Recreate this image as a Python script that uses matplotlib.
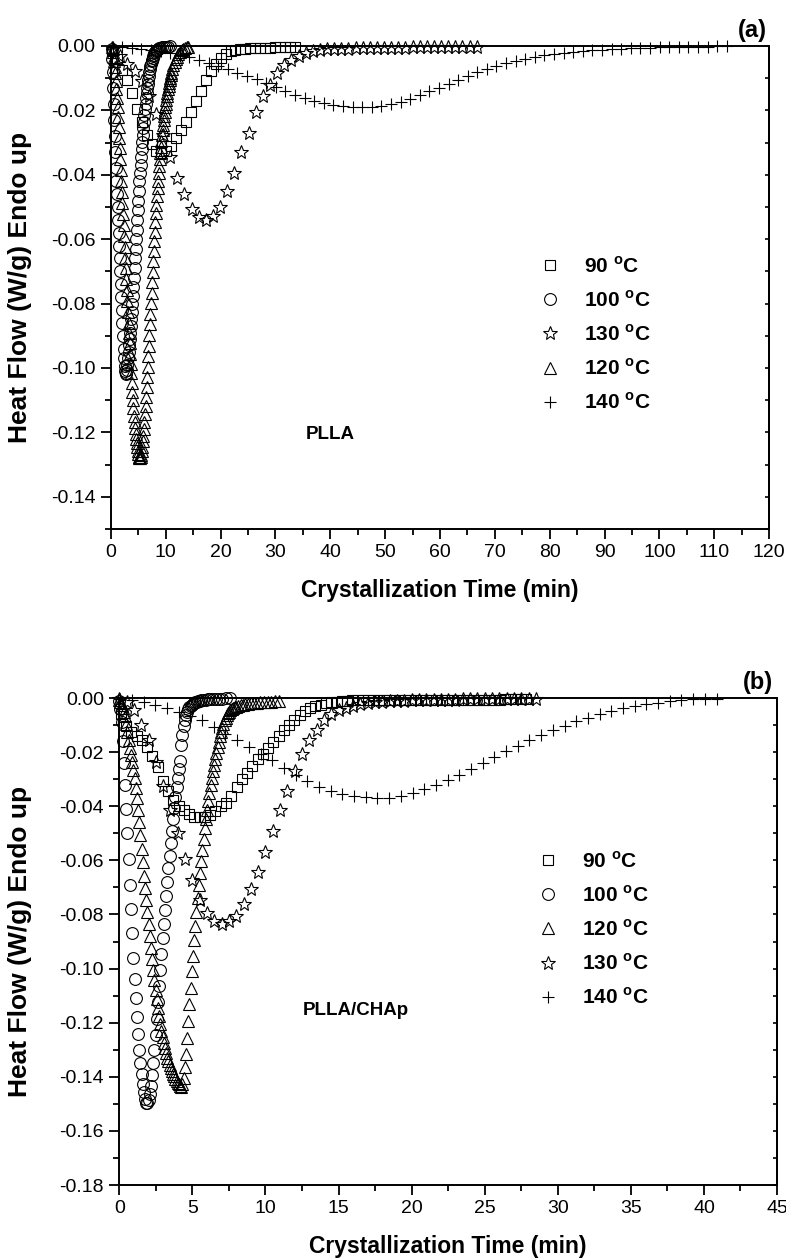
import matplotlib
matplotlib.use('Agg')
import matplotlib.pyplot as plt
from matplotlib.ticker import MultipleLocator, FormatStrFormatter

plt.rcParams['font.family'] = ['Liberation Sans', 'DejaVu Sans']
plt.rcParams['axes.unicode_minus'] = False
plt.rcParams['mathtext.fontset'] = 'custom'
plt.rcParams['mathtext.rm'] = 'Liberation Sans'
plt.rcParams['mathtext.bf'] = 'Liberation Sans:bold'

# ---------------- panel (a): PLLA ----------------
t90a = [0.2, 1.1, 2.0, 2.9, 3.8, 4.7, 5.6, 6.5, 7.4, 8.3, 9.2, 10.1, 11.0, 11.9, 12.8,
        13.7, 14.6, 15.5, 16.4, 17.3, 18.2, 19.1, 20.0, 20.9, 21.8, 22.7, 23.6, 24.5,
        25.4, 26.3, 27.2, 28.1, 29.0, 29.9, 30.8, 31.7, 32.6, 33.5]
hf90a = [-0.0015, -0.004, -0.0075, -0.0105, -0.0145, -0.0195, -0.0235, -0.0275, -0.0305,
         -0.0325, -0.0332, -0.0325, -0.031, -0.0285, -0.026, -0.0237, -0.0205, -0.0172,
         -0.014, -0.0105, -0.0078, -0.0056, -0.0038, -0.0025, -0.0017, -0.0012, -0.0009,
         -0.0008, -0.0007, -0.0006, -0.0006, -0.0005, -0.0005, -0.0004, -0.0004, -0.0004,
         -0.0003, -0.0003]

t100a = [0.1, 0.2, 0.3, 0.4, 0.5, 0.6, 0.7, 0.8, 0.9, 1.0,
         1.1, 1.2, 1.3, 1.4, 1.5, 1.6, 1.7, 1.8, 1.9, 2.0,
         2.1, 2.2, 2.3, 2.4, 2.5, 2.6, 2.7, 2.8, 2.9, 3.0,
         3.1, 3.2, 3.3, 3.4, 3.5, 3.6, 3.7, 3.8, 3.9, 4.0,
         4.1, 4.2, 4.3, 4.4, 4.5, 4.6, 4.7, 4.8, 4.9, 5.0,
         5.1, 5.2, 5.3, 5.4, 5.5, 5.6, 5.7, 5.8, 5.9, 6.0,
         6.1, 6.2, 6.3, 6.4, 6.5, 6.6, 6.7, 6.8, 6.9, 7.0,
         7.1, 7.2, 7.3, 7.4, 7.5, 7.6, 7.7, 7.8, 7.9, 8.0,
         8.2, 8.4, 8.6, 8.8, 9.0, 9.3, 9.6, 10.0, 10.4, 10.8]
hf100a = [-0.001, -0.004, -0.008, -0.013, -0.018, -0.023, -0.028, -0.033, -0.038, -0.042,
          -0.046, -0.050, -0.054, -0.058, -0.062, -0.066, -0.070, -0.074, -0.078, -0.082,
          -0.086, -0.090, -0.094, -0.097, -0.0995, -0.101, -0.102, -0.1015, -0.1005, -0.099,
          -0.097, -0.095, -0.093, -0.091, -0.089, -0.087, -0.0848, -0.0825, -0.080, -0.0775,
          -0.0748, -0.072, -0.069, -0.066, -0.063, -0.060, -0.057, -0.054, -0.051, -0.048,
          -0.045, -0.042, -0.0395, -0.037, -0.0345, -0.032, -0.0298, -0.0276, -0.0255, -0.0235,
          -0.0215, -0.0197, -0.018, -0.0163, -0.0147, -0.0132, -0.0118, -0.0105, -0.0093, -0.0082,
          -0.0072, -0.0063, -0.0055, -0.0048, -0.0042, -0.0036, -0.0031, -0.0027, -0.0023, -0.002,
          -0.0015, -0.0011, -0.0008, -0.0006, -0.0005, -0.0004, -0.0003, -0.0002, -0.0002, -0.0001]

t130a = [0.4, 1.7, 3.0, 4.3, 5.6, 6.9, 8.2, 9.5, 10.8, 12.1, 13.4, 14.7, 16.0, 17.3,
         18.6, 19.9, 21.2, 22.5, 23.8, 25.1, 26.4, 27.7, 29.0, 30.3, 31.6, 32.9, 34.2,
         35.5, 36.8, 38.1, 39.4, 40.7, 42.0, 43.3, 44.6, 45.9, 47.2, 48.5, 49.8, 51.1,
         52.4, 53.7, 55.0, 56.3, 57.6, 58.9, 60.2, 61.5, 62.8, 64.1, 65.4, 66.7]
hf130a = [-0.001, -0.003, -0.0055, -0.0078, -0.011, -0.0155, -0.021, -0.0275, -0.0344,
          -0.041, -0.046, -0.0505, -0.053, -0.054, -0.0528, -0.050, -0.045, -0.0395,
          -0.033, -0.027, -0.0205, -0.0155, -0.012, -0.0085, -0.006, -0.0042, -0.003,
          -0.0022, -0.0016, -0.0012, -0.001, -0.0009, -0.0008, -0.0008, -0.0007, -0.0007,
          -0.0006, -0.0006, -0.0006, -0.0005, -0.0005, -0.0005, -0.0004, -0.0004, -0.0004,
          -0.0004, -0.0003, -0.0003, -0.0003, -0.0003, -0.0003, -0.0003]

t120a = [0.2, 0.3, 0.4, 0.5, 0.6, 0.7, 0.8, 0.9, 1.0,
         1.1, 1.2, 1.3, 1.4, 1.5, 1.6, 1.7, 1.8, 1.9, 2.0,
         2.1, 2.2, 2.3, 2.4, 2.5, 2.6, 2.7, 2.8, 2.9, 3.0,
         3.1, 3.2, 3.3, 3.4, 3.5, 3.6, 3.7, 3.8, 3.9, 4.0,
         4.1, 4.2, 4.3, 4.4, 4.5, 4.6, 4.7, 4.8, 4.9, 5.0,
         5.1, 5.2, 5.3, 5.4, 5.5, 5.6, 5.7, 5.8, 5.9, 6.0,
         6.1, 6.2, 6.3, 6.4, 6.5, 6.6, 6.7, 6.8, 6.9, 7.0,
         7.1, 7.2, 7.3, 7.4, 7.5, 7.6, 7.7, 7.8, 7.9, 8.0,
         8.1, 8.2, 8.3, 8.4, 8.5, 8.6, 8.7, 8.8, 8.9, 9.0,
         9.1, 9.2, 9.3, 9.4, 9.5, 9.6, 9.7, 9.8, 9.9, 10.0,
         10.1, 10.2, 10.3, 10.4, 10.5, 10.6, 10.7, 10.8, 10.9, 11.0,
         11.2, 11.4, 11.6, 11.8, 12.0, 12.3, 12.6, 12.9, 13.2, 13.5, 13.8, 14.1]
hf120a = [-0.0003, -0.001, -0.002, -0.0033, -0.0048, -0.0065, -0.0085, -0.0108, -0.0133,
          -0.016, -0.0189, -0.022, -0.0252, -0.0285, -0.0318, -0.0351, -0.0385, -0.0419, -0.0453,
          -0.0487, -0.0521, -0.0555, -0.0589, -0.0623, -0.0657, -0.0691, -0.0725, -0.0759, -0.0793,
          -0.0826, -0.0859, -0.0892, -0.0924, -0.0956, -0.0987, -0.1017, -0.1046, -0.1074, -0.110,
          -0.1125, -0.1148, -0.1169, -0.1188, -0.1205, -0.122, -0.1234, -0.1247, -0.1258, -0.1268,
          -0.1275, -0.1279, -0.128, -0.1277, -0.127, -0.1258, -0.1244, -0.1228, -0.121, -0.119,
          -0.1168, -0.1144, -0.1118, -0.109, -0.106, -0.1029, -0.0997, -0.0964, -0.0931, -0.0898,
          -0.0865, -0.0832, -0.0799, -0.0766, -0.0733, -0.0701, -0.0669, -0.0638, -0.0607, -0.0577,
          -0.0548, -0.052, -0.0493, -0.0467, -0.0442, -0.0418, -0.0395, -0.0373, -0.0352, -0.0332,
          -0.0313, -0.0295, -0.0278, -0.0262, -0.0246, -0.0231, -0.0217, -0.0204, -0.0191, -0.0179,
          -0.0167, -0.0156, -0.0145, -0.0135, -0.0125, -0.0116, -0.0107, -0.0099, -0.0091, -0.0084,
          -0.0071, -0.006, -0.005, -0.0041, -0.0034, -0.0025, -0.0018, -0.0013, -0.0009, -0.0006,
          -0.0004, -0.0002]

t140a = [0.3, 2.05, 3.8, 5.55, 7.3, 9.05, 10.8, 12.55, 14.3, 16.05, 17.8, 19.55, 21.3,
         23.05, 24.8, 26.55, 28.3, 30.05, 31.8, 33.55, 35.3, 37.05, 38.8, 40.55, 42.3,
         44.05, 45.8, 47.55, 49.3, 51.05, 52.8, 54.55, 56.3, 58.05, 59.8, 61.55, 63.3,
         65.05, 66.8, 68.55, 70.3, 72.05, 73.8, 75.55, 77.3, 79.05, 80.8, 82.55, 84.3,
         86.05, 87.8, 89.55, 91.3, 93.05, 94.8, 96.55, 98.3, 100.05, 101.8, 103.55,
         105.3, 107.05, 108.8, 110.55, 112.3]
hf140a = [-0.0002, -0.0004, -0.0006, -0.0009, -0.0012, -0.0016, -0.0021, -0.0027, -0.0034,
          -0.0043, -0.0052, -0.0062, -0.0072, -0.0083, -0.0094, -0.0104, -0.0115, -0.0127,
          -0.0139, -0.0151, -0.0162, -0.0171, -0.0178, -0.0183, -0.0186, -0.0188, -0.0189,
          -0.0188, -0.0185, -0.0180, -0.0173, -0.0164, -0.0153, -0.0141, -0.0129, -0.0117,
          -0.0105, -0.0093, -0.0081, -0.0071, -0.0062, -0.0053, -0.0046, -0.0040, -0.0034,
          -0.0029, -0.0025, -0.0021, -0.0018, -0.0015, -0.0013, -0.0011, -0.0009, -0.0008,
          -0.0007, -0.0006, -0.0005, -0.0004, -0.0003, -0.0003, -0.0002, -0.0002, -0.0002,
          -0.0001, -0.0001]

# ---------------- panel (b): PLLA/CHAp ----------------
t90b = [0.10, 0.46, 0.82, 1.18, 1.54, 1.90, 2.26, 2.62, 2.98, 3.34, 3.70, 4.06, 4.42,
        4.78, 5.14, 5.50, 5.86, 6.22, 6.58, 6.94, 7.30, 7.66, 8.02, 8.38, 8.74, 9.10,
        9.46, 9.82, 10.18, 10.54, 10.90, 11.26, 11.62, 11.98, 12.34, 12.70, 13.06, 13.42,
        13.78, 14.14, 14.50, 14.86, 15.22, 15.58, 15.94, 16.30, 16.66, 17.02, 17.38, 17.74,
        18.10, 18.46, 18.82, 19.18, 19.54, 19.90, 20.26, 20.62, 20.98, 21.34, 21.70, 22.06,
        22.42, 22.78, 23.14, 23.50, 23.86, 24.22, 24.58, 24.94, 25.30, 25.66, 26.02, 26.38,
        26.74, 27.10, 27.46, 27.82]
hf90b = [-0.006, -0.0105, -0.0125, -0.014, -0.0156, -0.018, -0.0215, -0.0255, -0.0305,
         -0.0345, -0.0378, -0.0398, -0.0415, -0.043, -0.0438, -0.0441, -0.044, -0.0432,
         -0.0418, -0.040, -0.0388, -0.0362, -0.033, -0.030, -0.0278, -0.0252, -0.0227,
         -0.0205, -0.0183, -0.0162, -0.0142, -0.0118, -0.0098, -0.008, -0.0064, -0.0049,
         -0.0038, -0.003, -0.0025, -0.002, -0.0016, -0.0013, -0.0011, -0.001,
         -0.0009, -0.0009, -0.0009, -0.0009, -0.0009, -0.0009, -0.0009, -0.0009,
         -0.0008, -0.0008, -0.0008, -0.0008, -0.0008, -0.0008, -0.0008, -0.0008,
         -0.0007, -0.0007, -0.0007, -0.0007, -0.0007, -0.0007, -0.0007, -0.0007,
         -0.0006, -0.0006, -0.0006, -0.0006, -0.0006,
         -0.0005, -0.0005, -0.0005, -0.0005, -0.0005]

t100b = [0.00, 0.08, 0.16, 0.24, 0.32, 0.40, 0.48, 0.56, 0.64, 0.72, 0.80, 0.88, 0.96,
         1.04, 1.12, 1.20, 1.28, 1.36, 1.44, 1.52, 1.60, 1.68, 1.76, 1.84, 1.92, 2.00,
         2.08, 2.16, 2.24, 2.32, 2.40, 2.48, 2.56, 2.64, 2.72, 2.80, 2.88, 2.96, 3.04,
         3.12, 3.20, 3.28, 3.36, 3.44, 3.52, 3.60, 3.68, 3.76, 3.84, 3.92, 4.00, 4.08,
         4.16, 4.24, 4.32, 4.40, 4.48, 4.56, 4.64, 4.72, 4.80, 4.88, 4.96, 5.04, 5.12,
         5.20, 5.30, 5.40, 5.50, 5.60, 5.75, 5.90, 6.05, 6.20, 6.40, 6.60, 6.80, 7.00,
         7.30, 7.60]
hf100b = [-0.001, -0.004, -0.009, -0.016, -0.024, -0.032, -0.041, -0.050, -0.0595, -0.069,
          -0.078, -0.087, -0.096, -0.104, -0.111, -0.118, -0.124, -0.130, -0.135, -0.139,
          -0.1425, -0.1455, -0.1482, -0.1496, -0.1496, -0.1485, -0.1465, -0.1435, -0.1395,
          -0.135, -0.130, -0.1245, -0.1185, -0.1125, -0.1065, -0.1005, -0.0945, -0.0888,
          -0.0835, -0.0782, -0.073, -0.068, -0.063, -0.0582, -0.0535, -0.049, -0.0447,
          -0.0406, -0.0367, -0.033, -0.0295, -0.0262, -0.0231, -0.0175, -0.0135, -0.0105,
          -0.0082, -0.0064, -0.005, -0.004, -0.0033, -0.0028, -0.0024, -0.0021, -0.0018,
          -0.0016, -0.0014, -0.0012, -0.001, -0.0009, -0.0007, -0.0006, -0.0005, -0.0004,
          -0.0003, -0.0003, -0.0002, -0.0002, -0.0001, -0.0001]

t120b = [0.00, 0.08, 0.16, 0.24, 0.32, 0.40, 0.48, 0.56, 0.64, 0.72, 0.80, 0.88, 0.96,
         1.04, 1.12, 1.20, 1.28, 1.36, 1.44, 1.52, 1.60, 1.68, 1.76, 1.84, 1.92, 2.00,
         2.08, 2.16, 2.24, 2.32, 2.40, 2.48, 2.56, 2.64, 2.72, 2.80, 2.88, 2.96, 3.04,
         3.12, 3.20, 3.28, 3.36, 3.44, 3.52, 3.60, 3.68, 3.76, 3.84, 3.92, 4.00, 4.08,
         4.16, 4.24, 4.32, 4.40, 4.48, 4.56, 4.64, 4.72, 4.80, 4.88, 4.96, 5.04, 5.12,
         5.20, 5.28, 5.36, 5.44, 5.52, 5.60, 5.68, 5.76, 5.84, 5.92, 6.00, 6.08, 6.16,
         6.24, 6.32, 6.40, 6.48, 6.56, 6.64, 6.72, 6.80, 6.88, 6.96, 7.04, 7.12, 7.20,
         7.28, 7.36, 7.44, 7.52, 7.60, 7.70, 7.80, 7.90, 8.00, 8.15, 8.30, 8.45, 8.60,
         8.80, 9.00, 9.20, 9.40, 9.65, 9.90, 10.15, 10.40, 10.65, 10.90]
hf120b = [-0.0006, -0.0014, -0.0025, -0.0038, -0.0052, -0.0068, -0.0095, -0.0125, -0.0155,
          -0.0183, -0.021, -0.0237, -0.0265, -0.0297, -0.0332, -0.037, -0.0412, -0.0458,
          -0.0507, -0.0557, -0.0607, -0.0656, -0.0703, -0.0748, -0.0792, -0.0836, -0.088,
          -0.0923, -0.0965, -0.1005, -0.1043, -0.1079, -0.1113, -0.1145, -0.1175, -0.1203,
          -0.1229, -0.1253, -0.1275, -0.1295, -0.1313, -0.1329, -0.1343, -0.1356, -0.1368,
          -0.1379, -0.1389, -0.1398, -0.1407, -0.1415, -0.1422, -0.1428, -0.1433,
          -0.1436, -0.1428, -0.1405, -0.1365, -0.1315, -0.1258, -0.1195, -0.1132, -0.107,
          -0.101, -0.0952, -0.0896, -0.0842, -0.079, -0.074, -0.0692, -0.0646, -0.0602,
          -0.056, -0.052, -0.0482, -0.0446, -0.0412, -0.038, -0.035, -0.0322, -0.0296,
          -0.0271, -0.0247, -0.0224, -0.0202, -0.0181, -0.0161, -0.0142, -0.0125, -0.0109,
          -0.0095, -0.0083, -0.0073, -0.0064, -0.0057, -0.0051, -0.0046,
          -0.0041, -0.0037, -0.0034, -0.0032, -0.0029, -0.0027, -0.0025, -0.0023, -0.0021,
          -0.0019, -0.0018, -0.0017, -0.0016, -0.0015, -0.0014, -0.0013, -0.0012, -0.0011]

t130b = [0.0, 0.5, 1.0, 1.5, 2.0, 2.5, 3.0, 3.5, 4.0, 4.5, 5.0, 5.5, 6.0, 6.5, 7.0, 7.5,
         8.0, 8.5, 9.0, 9.5, 10.0, 10.5, 11.0, 11.5, 12.0, 12.5, 13.0, 13.5, 14.0, 14.5,
         15.0, 15.5, 16.0, 16.5, 17.0, 17.5, 18.0, 18.5, 19.0, 19.5, 20.0, 20.5, 21.0,
         21.5, 22.0, 22.5, 23.0, 23.5, 24.0, 24.5, 25.0, 25.5, 26.0, 26.5, 27.0, 27.5,
         28.0, 28.5]
hf130b = [-0.0005, -0.0015, -0.0045, -0.010, -0.0155, -0.0235, -0.0325, -0.0412, -0.050,
          -0.0594, -0.0673, -0.0745, -0.0795, -0.0825, -0.0834, -0.0824, -0.0805, -0.0762,
          -0.0707, -0.0643, -0.0569, -0.049, -0.0415, -0.0342, -0.027, -0.0205, -0.0155,
          -0.0118, -0.0082, -0.006, -0.0045, -0.0035, -0.0028, -0.0023, -0.0019, -0.0016,
          -0.0014, -0.0012, -0.0011, -0.001, -0.0009, -0.0008, -0.0008, -0.0007, -0.0007,
          -0.0006, -0.0006, -0.0005, -0.0005, -0.0005, -0.0004, -0.0004, -0.0004, -0.0004,
          -0.0003, -0.0003, -0.0003, -0.0003]

t140b = [0.06, 0.86, 1.66, 2.46, 3.26, 4.06, 4.86, 5.66, 6.46, 7.26, 8.06, 8.86, 9.66,
         10.46, 11.26, 12.06, 12.86, 13.66, 14.46, 15.26, 16.06, 16.86, 17.66, 18.46,
         19.26, 20.06, 20.86, 21.66, 22.46, 23.26, 24.06, 24.86, 25.66, 26.46, 27.26,
         28.06, 28.86, 29.66, 30.46, 31.26, 32.06, 32.86, 33.66, 34.46, 35.26, 36.06,
         36.86, 37.66, 38.46, 39.26, 40.06, 40.86]
hf140b = [-0.0002, -0.0006, -0.0014, -0.0026, -0.0037, -0.005, -0.0066, -0.0083, -0.0106,
          -0.0132, -0.0155, -0.018, -0.0205, -0.023, -0.0258, -0.0283, -0.0308, -0.0328,
          -0.0343, -0.0354, -0.0362, -0.0367, -0.0369, -0.0368, -0.0362, -0.0352, -0.0338,
          -0.0322, -0.0303, -0.0283, -0.0262, -0.024, -0.0218, -0.0196, -0.0176, -0.0156,
          -0.0137, -0.0119, -0.0102, -0.0086, -0.0072, -0.0059, -0.0048, -0.0038, -0.003,
          -0.0023, -0.0017, -0.0012, -0.0008, -0.0005, -0.0003, -0.0002]

temps = ['90', '100', '120', '130', '140']
markers = {'90': ('s', 7.0), '100': ('o', 8.5), '120': ('^', 9.0),
           '130': ('*', 10.5), '140': ('+', 9.0)}

fig = plt.figure(figsize=(7.86, 12.6), dpi=100)
axA = fig.add_axes([0.1412, 0.5802, 0.8372, 0.3833])
axB = fig.add_axes([0.1518, 0.0595, 0.8368, 0.3865])


def draw(ax, t, hf, temp):
    m, ms = markers[temp]
    line, = ax.plot(t, hf, ls='none', marker=m, ms=ms, mfc='none', mec='black',
                    mew=0.8, color='black', label=temp + r' $^{\mathbf{o}}$C', clip_on=False)
    return line


def style_axes(ax, xmax, xmaj, xmin, ymin, ylab_x):
    ax.set_xlim(0, xmax)
    ax.set_ylim(ymin, 0.0)
    ax.xaxis.set_major_locator(MultipleLocator(xmaj))
    ax.xaxis.set_minor_locator(MultipleLocator(xmin))
    ax.yaxis.set_major_locator(MultipleLocator(0.02))
    ax.yaxis.set_minor_locator(MultipleLocator(0.01))
    ax.yaxis.set_major_formatter(FormatStrFormatter('%.2f'))
    ax.tick_params(which='major', direction='out', length=7, width=1.3, labelsize=14, pad=4)
    ax.tick_params(which='minor', direction='out', length=4, width=1.3)
    for s in ax.spines.values():
        s.set_linewidth(1.4)
    right = ax.secondary_yaxis('right')
    right.yaxis.set_major_locator(MultipleLocator(0.01))
    right.tick_params(direction='in', length=3, width=1.2, labelright=False)
    right.spines['right'].set_linewidth(1.4)
    ax.set_xlabel('Crystallization Time (min)', fontsize=16.5, fontweight='bold', labelpad=13)
    ax.set_ylabel('Heat Flow (W/g) Endo up', fontsize=19, fontweight='bold')
    ax.yaxis.set_label_coords(ylab_x, 0.5)


legend_kw = dict(bbox_transform=fig.transFigure, loc='upper left', frameon=False,
                 borderpad=0, borderaxespad=0, handlelength=1.0, handletextpad=1.1,
                 labelspacing=0.64, prop={'size': 15, 'weight': 'bold'})

# panel (a)
hA = {}
hA['90'] = draw(axA, t90a, hf90a, '90')
hA['100'] = draw(axA, t100a, hf100a, '100')
hA['130'] = draw(axA, t130a, hf130a, '130')
hA['120'] = draw(axA, t120a, hf120a, '120')
hA['140'] = draw(axA, t140a, hf140a, '140')
style_axes(axA, 120, 10, 5, -0.15, -0.12)
orderA = ['90', '100', '130', '120', '140']
axA.legend([hA[k] for k in orderA], [hA[k].get_label() for k in orderA],
           bbox_to_anchor=(540 / 786, 1 - 256 / 1260), **legend_kw)
axA.text(0.333, 0.195, 'PLLA', transform=axA.transAxes, fontsize=13.5, fontweight='bold',
         ha='center', va='center')
fig.text(752 / 786, 1 - 30 / 1260, '(a)', fontsize=17, fontweight='bold', ha='center', va='center')

# panel (b)
hB = {}
hB['90'] = draw(axB, t90b, hf90b, '90')
hB['100'] = draw(axB, t100b, hf100b, '100')
hB['120'] = draw(axB, t120b, hf120b, '120')
hB['130'] = draw(axB, t130b, hf130b, '130')
hB['140'] = draw(axB, t140b, hf140b, '140')
style_axes(axB, 45, 5, 2.5, -0.18, -0.132)
axB.legend([hB[k] for k in temps], [hB[k].get_label() for k in temps],
           bbox_to_anchor=(538 / 786, 1 - 851 / 1260), **legend_kw)
axB.text(0.359, 0.359, 'PLLA/CHAp', transform=axB.transAxes, fontsize=13.5, fontweight='bold',
         ha='center', va='center')
fig.text(758 / 786, 1 - 683 / 1260, '(b)', fontsize=17, fontweight='bold', ha='center', va='center')

fig.savefig('out.png', dpi=100)
